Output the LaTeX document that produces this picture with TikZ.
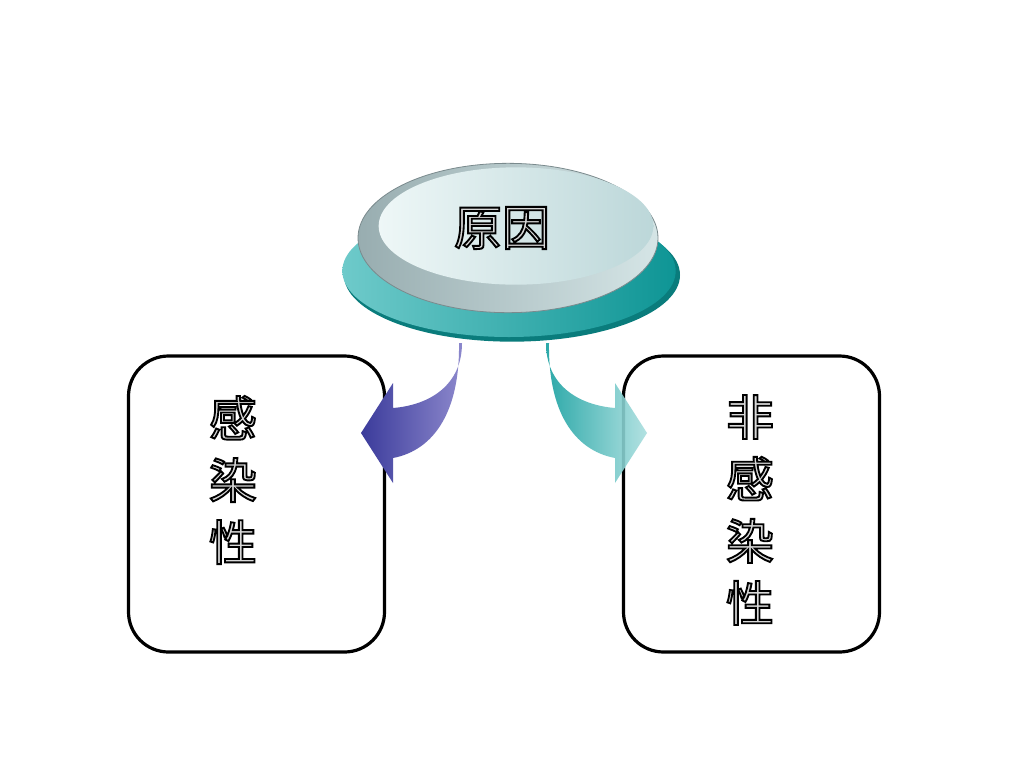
\documentclass[tikz,border=0pt]{standalone}
\usepackage{fontspec}
\newfontfamily\cjk{Noto Sans CJK SC}
\usetikzlibrary{shapes.geometric}
\definecolor{tealL}{HTML}{6ECACA}
\definecolor{tealD}{HTML}{0E9595}
\definecolor{tealRim}{HTML}{0A7C7C}
\definecolor{grayL}{HTML}{D5E5E6}
\definecolor{grayD}{HTML}{98ADB0}
\definecolor{topL}{HTML}{EEF7F7}
\definecolor{topD}{HTML}{BCD7D9}
\definecolor{purD}{HTML}{3B3B9B}
\definecolor{purL}{HTML}{8C88CC}
\definecolor{arrTD}{HTML}{16A0A0}
\definecolor{arrTL}{HTML}{ABDFDF}
\definecolor{glyphfill}{HTML}{D8D8D8}
\newcommand{\hollow}[1]{\special{pdf:literal direct 2 Tr 1.4 w 0 G}#1\special{pdf:literal direct 0 Tr}}
\tikzset{
  box/.style={draw=black, line width=2.4pt, rounded corners=30pt, fill=white,
    minimum width=192pt, minimum height=222pt},
  label/.style={font=\cjk\fontsize{36}{46.5}\selectfont, align=center, text=glyphfill, inner sep=0pt},
}
\begin{document}
\begin{tikzpicture}[x=0.75pt,y=-0.75pt]
\useasboundingbox[fill=white] (0,0) rectangle (1024,768);
% boxes
\node[box] (infect) at (256.5,504) {};
\node[box] (noninfect) at (751.5,504) {};
\node[label] (t1) at (233,480) {\hollow{感}\\\hollow{染}\\\hollow{性}};
\node[label] (t2) at (750,510) {\hollow{非}\\\hollow{感}\\\hollow{染}\\\hollow{性}};
% arrows
\path[left color=purD, right color=purL]
  (462,343) .. controls (462,385) and (430,405) .. (393,408) -- (393,383) -- (361,433)
  -- (393,483) -- (393,458) .. controls (435,450) and (460,410) .. (459,343) -- cycle;
\path[left color=arrTD, right color=arrTL, opacity=0.9]
  (546,343) .. controls (546,385) and (578,405) .. (615,408) -- (615,383) -- (647,433)
  -- (615,483) -- (615,458) .. controls (573,450) and (548,410) .. (549,343) -- cycle;
% cause disc
\node[ellipse, fill=tealRim, minimum width=252pt, minimum height=100pt, inner sep=0pt] (rim) at (512,275) {};
\node[ellipse, left color=tealL, right color=tealD, minimum width=250pt, minimum height=99pt, inner sep=0pt] (base) at (509,271) {};
\node[ellipse, left color=grayD, right color=grayL, draw=grayD!80!black, line width=0.6pt, minimum width=225pt, minimum height=112pt, inner sep=0pt] (disc) at (508,238) {};
\node[ellipse, left color=topL, right color=topD, minimum width=206pt, minimum height=88pt, inner sep=0pt] (cause) at (516,226) {};
\node[label] (ct) at (502,228) {\hollow{原因}};
\end{tikzpicture}
\end{document}
